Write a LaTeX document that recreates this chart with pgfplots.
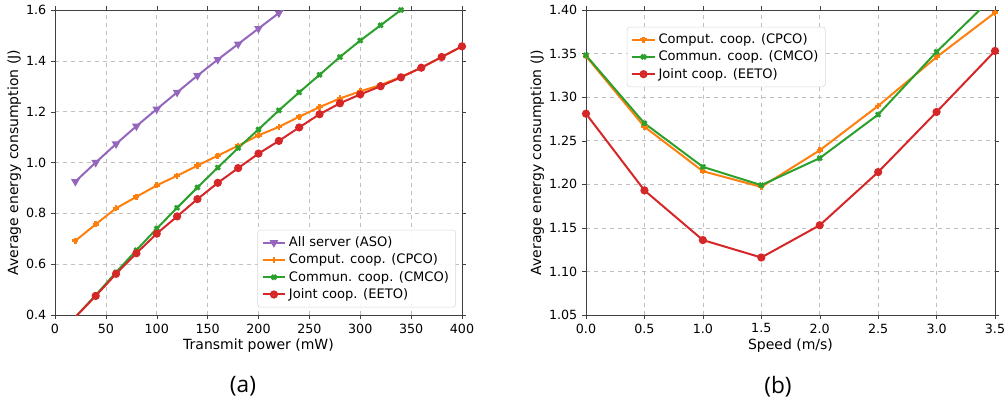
\documentclass[border=0pt]{standalone}
\usepackage{pgfplots}
\pgfplotsset{compat=1.18}
\usepackage{fontspec}
\setmainfont{DejaVu Sans}
\newfontfamily\capfont{Open Sans}
\definecolor{cpurple}{HTML}{9467BD}
\definecolor{corange}{HTML}{FF7F0E}
\definecolor{cgreen}{HTML}{2CA02C}
\definecolor{cred}{HTML}{D62728}
\pgfplotsset{
  myax/.style={
    scale only axis,
    anchor=south west,
    width=305.25pt, height=228.75pt,
    axis line style={black!75},
    tick align=outside,
    tick style={black!75},
    major tick length=3pt,
    grid=major,
    grid style={dashed, black!25, line width=0.4pt},
    tick label style={font=\fontsize{9.5}{11}\selectfont},
    label style={font=\fontsize{10.5}{12}\selectfont},
    /pgf/number format/assume math mode=true,
    legend style={font=\fontsize{9.8}{11.5}\selectfont, draw=black!15, rounded corners=2pt, fill=white, fill opacity=0.9, text opacity=1, row sep=0pt, inner sep=3pt},
    legend cell align=left,
    every axis plot/.append style={line width=1.5pt, mark size=2.3pt},
    clip=true,
  }
}
\begin{document}
\begin{tikzpicture}
\path[use as bounding box] (0,0) rectangle (754.5pt,303.75pt);
\begin{axis}[myax, at={(41.25pt,67.5pt)},
  xmin=0, xmax=400, ymin=0.4, ymax=1.6,
  xtick={0,50,...,400}, ytick={0.4,0.6,...,1.6},
  yticklabel style={/pgf/number format/.cd, fixed, fixed zerofill, precision=1},
  xlabel={Transmit power (mW)}, ylabel={Average energy consumption (J)},
  xlabel style={yshift=3pt}, ylabel style={yshift=-3pt},
  legend style={at={(0.985,0.025)}, anchor=south east},
]
\addplot[cpurple, mark=triangle*, mark options={rotate=180}] coordinates {
(20,0.925)(40,1.000)(60,1.073)(80,1.143)(100,1.210)(120,1.276)(140,1.342)(160,1.405)(180,1.466)(200,1.527)(220,1.588)(240,1.650)};
\addlegendentry{All server (ASO)}
\addplot[corange, mark=+, mark options={line width=2pt}] coordinates {
(20,0.692)(40,0.757)(60,0.820)(80,0.865)(100,0.910)(120,0.948)(140,0.988)(160,1.027)(180,1.066)(200,1.107)(220,1.140)(240,1.180)(260,1.218)(280,1.252)(300,1.280)(320,1.305)(340,1.337)(360,1.373)(380,1.415)(400,1.457)};
\addlegendentry{Comput. coop. (CPCO)}
\addplot[cgreen, mark=x, mark options={line width=2pt}] coordinates {
(20,0.392)(40,0.478)(60,0.568)(80,0.655)(100,0.740)(120,0.822)(140,0.902)(160,0.980)(180,1.057)(200,1.130)(220,1.205)(240,1.276)(260,1.345)(280,1.415)(300,1.480)(320,1.540)(340,1.600)(360,1.660)};
\addlegendentry{Commun. coop. (CMCO)}
\addplot[cred, mark=*] coordinates {
(20,0.392)(40,0.475)(60,0.562)(80,0.643)(100,0.720)(120,0.788)(140,0.856)(160,0.920)(180,0.978)(200,1.035)(220,1.085)(240,1.138)(260,1.190)(280,1.233)(300,1.268)(320,1.300)(340,1.335)(360,1.373)(380,1.415)(400,1.457)};
\addlegendentry{Joint coop. (EETO)}
\end{axis}
\begin{axis}[myax, at={(439.5pt,67.5pt)}, width=306.75pt,
  xmin=0, xmax=3.5, ymin=1.05, ymax=1.40,
  xtick={0,0.5,...,3.5}, ytick={1.05,1.10,...,1.40},
  xticklabel style={/pgf/number format/.cd, fixed, fixed zerofill, precision=1},
  yticklabel style={/pgf/number format/.cd, fixed, fixed zerofill, precision=2},
  xlabel={Speed (m/s)}, ylabel={Average energy consumption (J)},
  xlabel style={yshift=3pt}, ylabel style={yshift=-3pt},
  legend style={at={(0.1,0.945)}, anchor=north west},
]
\addplot[corange, mark=+, mark options={line width=2pt}] coordinates {
(0,1.347)(0.5,1.266)(1.0,1.215)(1.5,1.197)(2.0,1.239)(2.5,1.290)(3.0,1.346)(3.5,1.397)};
\addlegendentry{Comput. coop. (CPCO)}
\addplot[cgreen, mark=x, mark options={line width=2pt}] coordinates {
(0,1.348)(0.5,1.270)(1.0,1.220)(1.5,1.199)(2.0,1.230)(2.5,1.280)(3.0,1.352)(3.5,1.417)};
\addlegendentry{Commun. coop. (CMCO)}
\addplot[cred, mark=*] coordinates {
(0,1.281)(0.5,1.193)(1.0,1.136)(1.5,1.116)(2.0,1.153)(2.5,1.214)(3.0,1.283)(3.5,1.353)};
\addlegendentry{Joint coop. (EETO)}
\end{axis}
\node[font=\capfont\fontsize{17}{20}\selectfont] at (182.25pt,14pt) {(a)};
\node[font=\capfont\fontsize{17}{20}\selectfont] at (583.5pt,14pt) {(b)};
\end{tikzpicture}
\end{document}
